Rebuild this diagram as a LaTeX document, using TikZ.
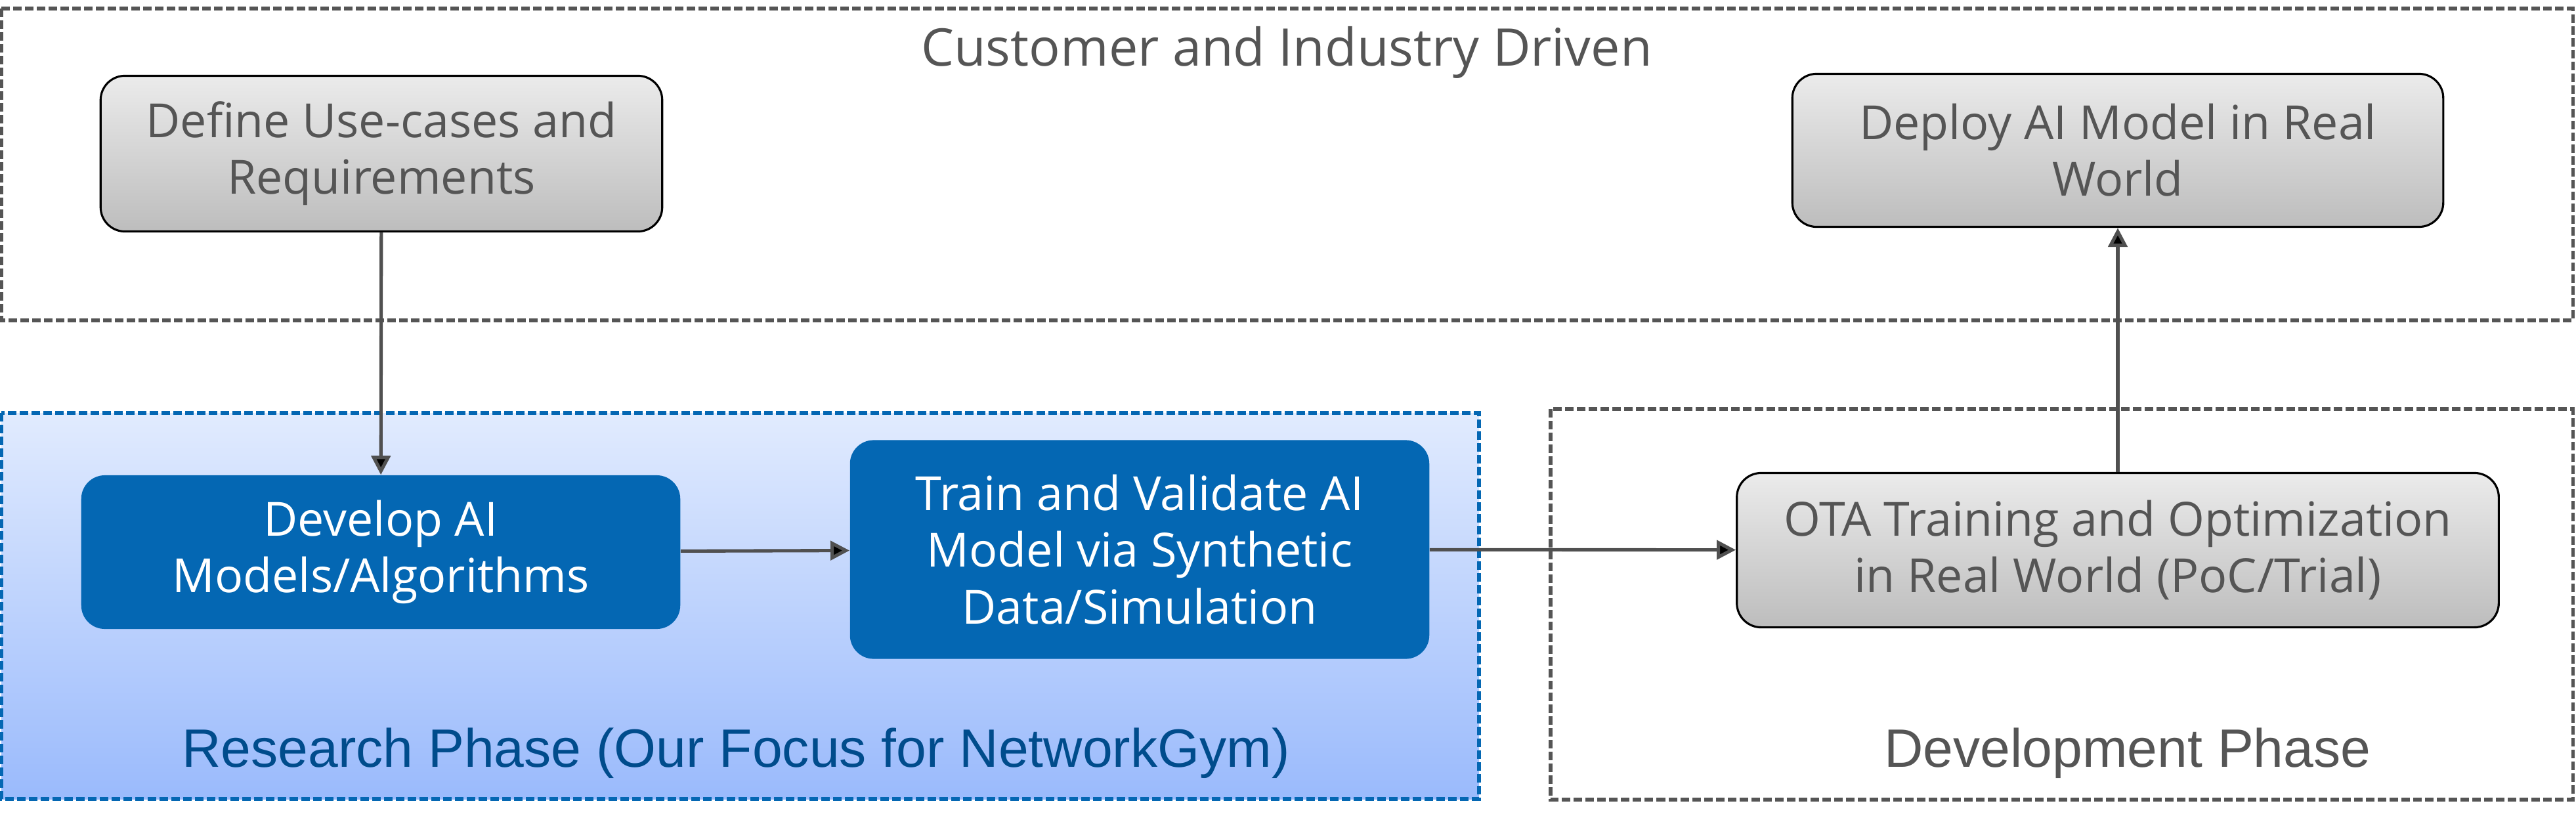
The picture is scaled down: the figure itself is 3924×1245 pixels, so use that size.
\documentclass[tikz,border=0pt]{standalone}
\usepackage{fontspec}
\setmainfont{Open Sans}
\newfontfamily\arialfont{Liberation Sans}
\usetikzlibrary{arrows.meta}
\definecolor{textgray}{HTML}{555555}
\definecolor{graytop}{HTML}{EBEBEB}
\definecolor{graybot}{HTML}{BDBDBD}
\definecolor{intelblue}{HTML}{0467B3}
\definecolor{regiontop}{HTML}{E1EBFE}
\definecolor{regionbot}{HTML}{9ABAFC}
\definecolor{phaseblue}{HTML}{004C8C}
\definecolor{arrowgray}{HTML}{505050}
\newcommand{\boxfont}{\fontsize{20.4}{24.5}\selectfont}
\begin{document}
\begin{tikzpicture}[x=0.01cm,y=-0.01cm]
\useasboundingbox (0,0) rectangle (3924,1245);
% Set styles for step boxes, regions and arrows
\tikzstyle{Gray}=[rounded corners=0.37cm,draw=black,line width=0.9pt,top color=graytop,bottom color=graybot,text=textgray,font=\boxfont,align=center]
\tikzstyle{Blue}=[rounded corners=0.36cm,fill=intelblue,text=white,font=\boxfont,align=center]
\tikzstyle{Region}=[line width=1.45pt,dash pattern=on 0.13cm off 0.05cm]
\tikzstyle{Flow}=[draw=arrowgray,line width=1.45pt,-{Triangle[length=0.29cm,width=0.29cm]}]
% Regions
\draw[Region,draw=textgray] (2,13) rectangle (3919,488);
\draw[Region,draw=intelblue,top color=regiontop,bottom color=regionbot] (2,629) rectangle (2253,1217);
\draw[Region,draw=textgray] (2362,623) rectangle (3919,1218);
\node[text=textgray,font=\fontsize{22.5}{27}\selectfont] (customer) at (1960,80) {Customer and Industry Driven};
\node[text=phaseblue,font=\arialfont\fontsize{23.4}{28}\selectfont] (research) at (1121,1147) {Research Phase (Our Focus for NetworkGym)};
\node[text=textgray,font=\arialfont\fontsize{23.4}{28}\selectfont] (development) at (3241,1147) {Development Phase};
% Nodes
\foreach [count=\i] \x/\y/\w/\h/\t/\n in {
    581/234/8.55/2.37/{Define Use-cases and\\Requirements}/Gray,
    580/841/9.12/2.34/{Develop AI\\Models/Algorithms}/Blue,
    1736/837/8.82/3.33/{Train and Validate AI\\Model via Synthetic\\Data/Simulation}/Blue,
    3226/838/11.60/2.35/{OTA Training and Optimization\\in Real World (PoC/Trial)}/Gray,
    3226/229/9.91/2.33/{Deploy AI Model in Real\\World}/Gray}
  \node[\n,minimum width=\w cm,minimum height=\h cm] at (\x,\y) (v\i) {\t};
% Edges
\foreach \i/\j in {1/2, 2/3, 3/4, 4/5}
  \draw[Flow] (v\i) edge (v\j);
\end{tikzpicture}
\end{document}
